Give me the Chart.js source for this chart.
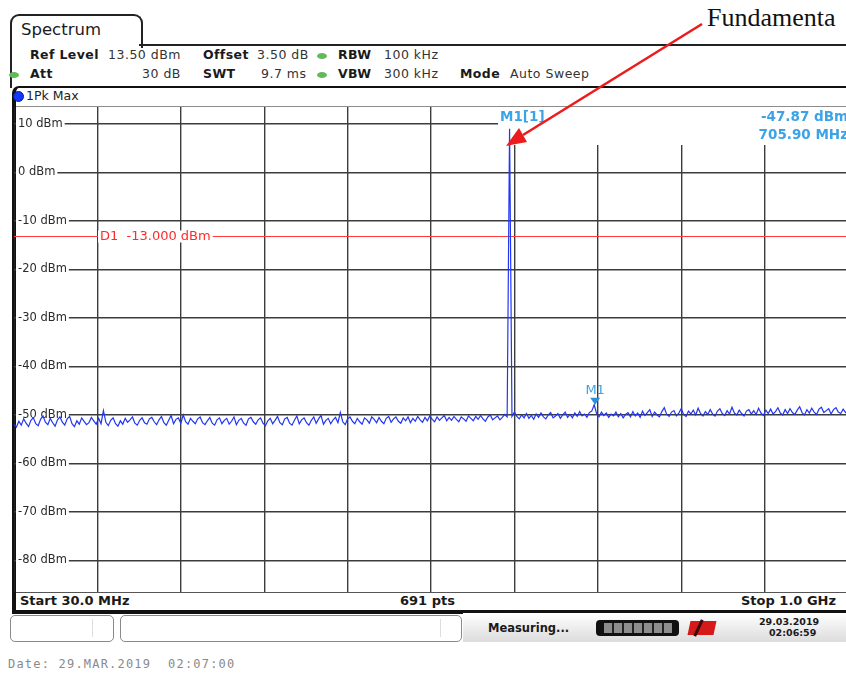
<!DOCTYPE html>
<html>
<head>
<meta charset="utf-8">
<script src="https://cdn.jsdelivr.net/npm/chart.js@4.4.1/dist/chart.umd.min.js"></script>
<style>
body{margin:0;width:846px;height:677px;overflow:hidden;position:relative;background:#fff;font-family:"DejaVu Sans",Verdana,sans-serif;color:#1a1a1a}
.a{position:absolute;white-space:pre;line-height:14px}
.b{font-weight:bold;font-size:12.5px;letter-spacing:0.4px}
.v{font-size:12.5px;letter-spacing:0.5px;color:#333}
.dot{position:absolute;width:10px;height:6px;border-radius:50%;background:#62b95a}
.box{position:absolute;border:1px solid #8a8a8a;border-radius:5px;background:#fff}
#plot{position:absolute;left:14px;top:107px;width:834px;height:485px}
</style>
</head>
<body>
<!-- tab + header -->
<div class="a" style="left:10px;top:14px;width:129px;height:32px;border:2px solid #222;border-bottom:none;border-radius:9px 9px 0 0"></div>
<div class="a" style="left:21px;top:21px;font-size:16.5px;line-height:18px">Spectrum</div>
<div class="a" style="left:139px;top:44px;width:720px;border-top:2px solid #222"></div>
<div class="a" style="left:10px;top:44px;height:44px;border-left:2px solid #222"></div>

<div class="a b" style="left:30px;top:48px">Ref Level</div>
<div class="a v" style="left:108px;top:48px">13.50 dBm</div>
<div class="a b" style="left:203px;top:48px">Offset</div>
<div class="a v" style="left:257px;top:48px">3.50 dB</div>
<div class="dot" style="left:317px;top:53px"></div>
<div class="a b" style="left:338px;top:48px">RBW</div>
<div class="a v" style="left:384px;top:48px">100 kHz</div>

<div class="dot" style="left:9px;top:72px"></div>
<div class="a b" style="left:30px;top:67px">Att</div>
<div class="a v" style="left:142px;top:67px">30 dB</div>
<div class="a b" style="left:203px;top:67px">SWT</div>
<div class="a v" style="left:261px;top:67px">9.7 ms</div>
<div class="dot" style="left:317px;top:72px"></div>
<div class="a b" style="left:338px;top:67px">VBW</div>
<div class="a v" style="left:384px;top:67px">300 kHz</div>
<div class="a b" style="left:460px;top:67px">Mode</div>
<div class="a v" style="left:510px;top:67px">Auto Sweep</div>

<!-- plot frame -->
<div class="a" style="left:12px;top:86px;width:850px;height:522px;border:2px solid #111;border-left:4px solid #111;border-bottom:4px solid #111;border-radius:7px 0 0 0"></div>
<div class="a" style="left:13px;top:91px;width:9px;height:9px;border-radius:50%;background:#1238ff;border:1px solid #0a1a90"></div>
<div class="a" style="left:26px;top:89px;font-size:12.5px;color:#222">1Pk Max</div>
<div class="a" style="left:16px;top:106px;width:840px;border-top:1px solid #8c8c8c"></div>

<div id="plot"><canvas id="spec"></canvas></div>

<div class="a" style="left:16px;top:592px;width:840px;border-top:1px solid #555"></div>
<div class="a" style="left:20px;top:594px;font-size:13px;font-weight:bold">Start 30.0 MHz</div>
<div class="a" style="left:400px;top:594px;font-size:13px;font-weight:bold">691 pts</div>
<div class="a" style="left:741px;top:594px;font-size:13px;font-weight:bold">Stop 1.0 GHz</div>

<!-- status bar -->
<div class="box" style="left:10px;top:615px;width:102px;height:25px"></div>
<div class="a" style="left:92px;top:619px;height:18px;border-left:1px solid #ddd"></div>
<div class="box" style="left:120px;top:615px;width:340px;height:25px"></div>
<div class="a" style="left:440px;top:619px;height:18px;border-left:1px solid #ddd"></div>
<div class="a" style="left:463px;top:613px;width:383px;height:29px;background:linear-gradient(#ffffff,#dcdcdc)"></div>
<div class="a" style="left:488px;top:621px;font-size:11.5px;font-weight:bold">Measuring...</div>
<div class="a" style="left:596px;top:620px;width:83px;height:16px;background:#111;border-radius:4px"></div>
<div class="a" style="left:604px;top:623px;width:68px;height:10px;background:repeating-linear-gradient(90deg,#8d8d8d 0 8px,#222 8px 10px)"></div>
<div class="a" style="left:689px;top:621px;width:26px;height:14px;background:#d61a1a;transform:skewX(-12deg)"></div>
<div class="a" style="left:697px;top:619px;width:3px;height:18px;background:#3a0a0a;transform:rotate(25deg)"></div>
<div class="a" style="left:759px;top:616px;font-size:9.5px;line-height:11px;font-weight:bold">29.03.2019</div>
<div class="a" style="left:769px;top:627px;font-size:9.5px;line-height:11px;font-weight:bold">02:06:59</div>

<div class="a" style="left:8px;top:657px;font-family:'DejaVu Sans Mono',monospace;font-size:12px;letter-spacing:1.2px;color:#8a8a8a">Date: 29.MAR.2019  02:07:00</div>

<!-- annotation -->
<div class="a" style="left:707px;top:4px;font-family:'Liberation Serif','Times New Roman',serif;font-size:26px;line-height:28px;color:#111">Fundamenta</div>
<svg style="position:absolute;left:0;top:0" width="846" height="677">
  <line x1="702" y1="24" x2="523" y2="135" stroke="#ec1c1c" stroke-width="2.6"/>
  <polygon points="506,146 527,142 519,128" fill="#ec1c1c"/>
</svg>

<script>
// sweep settings
const freqStart = 30;      // MHz
const freqStop = 1000;     // MHz
const refLevel = 13.5;     // dBm
const d1Level = -13;       // dBm display line
const markerFreq = 705.9;  // MHz
const markerLevel = -47.87;

// grid / tick labels
const xGridFreqs = [30, 127, 224, 321, 418, 515, 612, 709, 806, 903, 1000];
const yTicks = [10, 0, -10, -20, -30, -40, -50, -60, -70, -80];

// trace levels (dBm), evenly spaced over the sweep
const traceLevels = [
  -51.9,-52.5,-51.3,-52.1,-50.8,-51.7,-52.4,-51.1,-50.6,-51.8,-52.2,-50.9,-50.2,-51.5,-52.0,-50.7,-51.6,-52.3,-51.0,-50.4,
  -51.5,-52.1,-50.8,-50.3,-51.8,-52.4,-51.2,-51.9,-50.6,-51.3,-52.0,-51.6,-50.5,-51.2,-51.9,-50.7,-51.8,-49.1,-51.5,-52.2,
  -51.1,-50.6,-51.8,-52.3,-51.2,-51.9,-50.7,-51.5,-51.0,-50.4,-51.7,-52.1,-51.1,-50.6,-51.6,-51.9,-50.8,-50.5,-51.4,-52.0,
  -51.0,-50.3,-51.6,-52.1,-51.1,-50.1,-51.8,-50.9,-50.6,-51.7,-50.0,-51.4,-51.9,-50.7,-51.3,-51.8,-50.8,-50.4,-51.6,-52.0,
  -51.2,-50.5,-51.7,-52.1,-51.0,-50.6,-51.8,-51.1,-50.7,-51.9,-51.3,-50.4,-52.0,-51.1,-50.7,-51.7,-52.1,-50.8,-50.5,-51.4,
  -51.9,-51.0,-50.6,-51.7,-52.2,-51.2,-50.7,-51.8,-51.1,-50.3,-51.6,-52.0,-50.8,-50.5,-51.7,-52.1,-51.1,-50.2,-51.8,-51.0,
  -50.6,-51.6,-52.1,-51.1,-50.4,-51.7,-50.8,-50.1,-51.9,-51.1,-50.7,-51.8,-51.0,-50.5,-51.6,-49.5,-51.4,-52.0,-50.8,-50.4,
  -51.3,-51.8,-50.7,-51.4,-51.9,-50.6,-51.0,-51.7,-50.4,-50.9,-51.6,-50.5,-51.3,-51.8,-50.7,-50.3,-51.5,-50.8,-50.4,-51.3,
  -51.7,-50.6,-51.2,-50.4,-51.6,-50.7,-51.3,-50.3,-51.0,-51.5,-50.5,-51.2,-50.2,-50.9,-51.4,-50.4,-51.1,-50.6,-50.1,-51.2,
  -50.5,-51.1,-50.3,-50.9,-51.4,-50.4,-50.8,-51.3,-50.2,-50.7,-51.2,-50.3,-50.9,-50.1,-50.8,-51.3,-50.4,-50.0,-51.0,-50.6,
  -50.2,-51.0,-50.5,-49.9,-50.4,
  9.0,
  -50.3,-49.4,-50.3,-50.8,-50.0,-50.6,-49.7,-50.7,-50.1,-50.9,-49.8,-50.5,-49.6,-50.4,-50.8,-50.0,-49.5,-50.6,-50.2,-49.7,
  -50.7,-50.0,-49.4,-50.5,-49.9,-50.6,-49.6,-50.3,-49.3,-50.2,-49.8,-50.5,-49.5,-49.2,-47.9,-49.7,-50.4,-49.4,-50.1,-49.6,
  -50.5,-49.8,-50.2,-49.4,-50.4,-49.7,-50.6,-49.9,-49.5,-50.4,-49.3,-50.2,-49.6,-50.5,-49.2,-50.1,-49.5,-48.9,-50.3,-49.4,
  -50.0,-50.4,-49.3,-48.5,-49.9,-50.3,-49.4,-49.1,-50.2,-49.6,-48.7,-49.9,-50.3,-49.2,-49.8,-49.0,-50.0,-48.6,-49.7,-50.2,
  -49.3,-49.9,-48.9,-49.8,-50.2,-49.2,-48.7,-49.7,-50.1,-49.1,-49.8,-48.4,-49.6,-50.0,-49.0,-49.7,-50.2,-49.2,-48.9,-49.8,
  -49.1,-49.9,-48.6,-49.6,-50.1,-49.0,-49.7,-48.8,-49.8,-49.3,-48.5,-49.6,-50.0,-48.9,-49.7,-48.7,-49.5,-49.9,-49.0,-48.3,
  -49.5,-50.0,-48.9,-49.6,-48.6,-49.4,-49.9,-48.8,-48.4,-49.5,-49.1,-48.7,-49.8,-48.9,-48.5,-49.4,-49.7,-48.8,-49.5,-49.1
];

const freqStep = (freqStop - freqStart) / (traceLevels.length - 1);
const tracePoints = traceLevels.map((lvl, i) => ({ x: freqStart + i * freqStep, y: lvl }));

const labelFont = '11.5px "DejaVu Sans", Verdana, sans-serif';
const markerBlue = '#3ba3e6';

// grid labels, D1 line, marker readout: things the analyzer paints under the trace
const screenPlugin = {
  id: 'screen',
  beforeDatasetsDraw(chart) {
    const { ctx, chartArea: a, scales: { y } } = chart;
    ctx.save();
    // marker readout area has no grid
    ctx.fillStyle = '#fff';
    ctx.fillRect(a.right - 350, a.top, 352, 38);

    // D1 display line
    const dy = Math.round(y.getPixelForValue(d1Level)) + 0.5;
    ctx.strokeStyle = '#ff3b3b';
    ctx.lineWidth = 1;
    ctx.beginPath();
    ctx.moveTo(a.left, dy);
    ctx.lineTo(a.right, dy);
    ctx.stroke();
    ctx.font = '13px "DejaVu Sans", Verdana, sans-serif';
    ctx.textBaseline = 'middle';
    const d1Text = 'D1  ' + d1Level.toFixed(3) + ' dBm';
    const dw = ctx.measureText(d1Text).width;
    ctx.fillStyle = '#fff';
    ctx.fillRect(a.left + 84, dy - 6, dw + 4, 12);
    ctx.fillStyle = '#ff2a2a';
    ctx.fillText(d1Text, a.left + 86, dy);

    // level labels sit inside the grid
    ctx.font = labelFont;
    y.ticks.forEach(t => {
      const py = y.getPixelForValue(t.value);
      const txt = t.value + ' dBm';
      const w = ctx.measureText(txt).width;
      ctx.fillStyle = '#fff';
      ctx.fillRect(a.left + 2, py - 6, w + 4, 12);
      ctx.fillStyle = '#2a2a2a';
      ctx.fillText(txt, a.left + 4, py);
    });
    ctx.restore();
  },
  afterDatasetsDraw(chart) {
    const { ctx, chartArea: a, scales: { x, y } } = chart;
    ctx.save();
    // marker M1
    const mx = x.getPixelForValue(markerFreq);
    const my = y.getPixelForValue(markerLevel);
    ctx.fillStyle = '#2d8fd8';
    ctx.beginPath();
    ctx.moveTo(mx, my);
    ctx.lineTo(mx - 5, my - 7);
    ctx.lineTo(mx + 5, my - 7);
    ctx.closePath();
    ctx.fill();
    ctx.font = '13px "DejaVu Sans", Verdana, sans-serif';
    ctx.fillStyle = markerBlue;
    ctx.textAlign = 'center';
    ctx.textBaseline = 'bottom';
    ctx.fillText('M1', mx, my - 8);

    // readout
    ctx.font = 'bold 13.5px "DejaVu Sans", Verdana, sans-serif';
    ctx.textBaseline = 'middle';
    ctx.textAlign = 'left';
    ctx.fillText('M1[1]', a.right - 348, a.top + 10);
    ctx.textAlign = 'right';
    ctx.fillText(markerLevel.toFixed(2) + ' dBm', a.right, a.top + 10);
    ctx.fillText(markerFreq.toFixed(2) + ' MHz', a.right, a.top + 28);
    ctx.restore();
  }
};

new Chart(document.getElementById('spec'), {
  type: 'line',
  data: {
    datasets: [{
      label: '1Pk Max',
      data: tracePoints,
      borderColor: '#2236f2',
      borderWidth: 1.2,
      pointRadius: 0,
      tension: 0
    }]
  },
  options: {
    responsive: true,
    maintainAspectRatio: false,
    animation: false,
    layout: { padding: 0 },
    plugins: { legend: { display: false }, tooltip: { enabled: false } },
    scales: {
      x: {
        type: 'linear',
        min: freqStart,
        max: freqStop,
        afterBuildTicks: s => { s.ticks = xGridFreqs.map(v => ({ value: v })); },
        ticks: { display: false },
        grid: { color: '#3c3c3c', lineWidth: 1.4, drawTicks: false },
        border: { display: false }
      },
      y: {
        min: refLevel - 100,
        max: refLevel,
        afterBuildTicks: s => { s.ticks = yTicks.map(v => ({ value: v })); },
        ticks: { display: false },
        grid: { color: '#3c3c3c', lineWidth: 1.4, drawTicks: false },
        border: { display: false }
      }
    }
  },
  plugins: [screenPlugin]
});
</script>
</body>
</html>
